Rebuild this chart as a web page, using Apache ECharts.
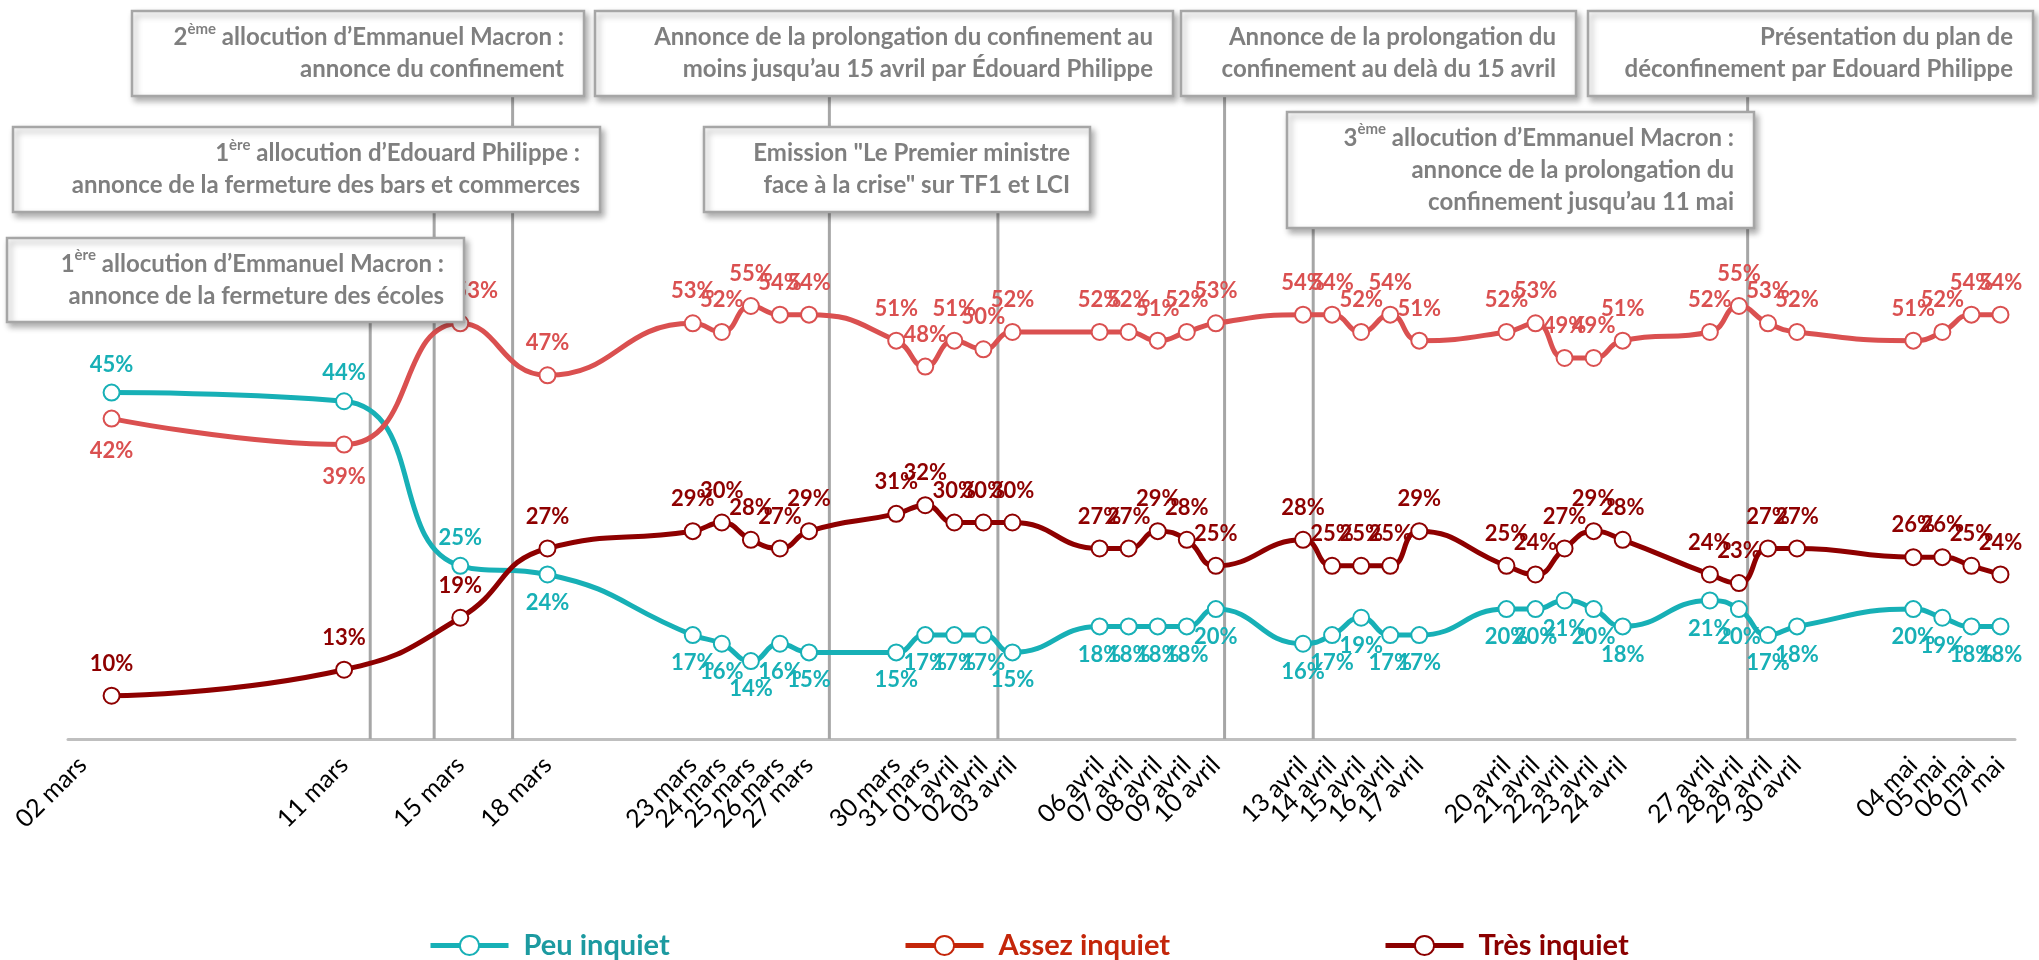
<!DOCTYPE html>
<html>
<head>
<meta charset="utf-8">
<title>Inquiétude face au coronavirus</title>
<script src="https://cdn.jsdelivr.net/npm/echarts@6/dist/echarts.min.js"></script>
<style>
  html, body { margin: 0; padding: 0; background: #fff; }
  #chart { width: 2039px; height: 960px; }
</style>
</head>
<body>
<div id="chart"></div>
<script>
// day numbers are counted from 1 March (avril d = 31 + d, mai d = 61 + d)
var tickLabels = ['02 mars', '11 mars', '15 mars', '18 mars', '23 mars', '24 mars', '25 mars', '26 mars', '27 mars',
  '30 mars', '31 mars', '01 avril', '02 avril', '03 avril', '06 avril', '07 avril', '08 avril', '09 avril', '10 avril',
  '13 avril', '14 avril', '15 avril', '16 avril', '17 avril', '20 avril', '21 avril', '22 avril', '23 avril', '24 avril',
  '27 avril', '28 avril', '29 avril', '30 avril', '04 mai', '05 mai', '06 mai', '07 mai'];
var tickDays = [2, 11, 15, 18, 23, 24, 25, 26, 27, 30, 31, 32, 33, 34, 37, 38, 39, 40, 41,
  44, 45, 46, 47, 48, 51, 52, 53, 54, 55, 58, 59, 60, 61, 65, 66, 67, 68];
// in the original the first point sits one day right of its label
var pointDays = [3, 11, 15, 18, 23, 24, 25, 26, 27, 30, 31, 32, 33, 34, 37, 38, 39, 40, 41,
  44, 45, 46, 47, 48, 51, 52, 53, 54, 55, 58, 59, 60, 61, 65, 66, 67, 68];

var peuInquiet = [45, 44, 25, 24, 17, 16, 14, 16, 15, 15, 17, 17, 17, 15, 18, 18, 18, 18, 20,
  16, 17, 19, 17, 17, 20, 20, 21, 20, 18, 21, 20, 17, 18, 20, 19, 18, 18];
var assezInquiet = [42, 39, 53, 47, 53, 52, 55, 54, 54, 51, 48, 51, 50, 52, 52, 52, 51, 52, 53,
  54, 54, 52, 54, 51, 52, 53, 49, 49, 51, 52, 55, 53, 52, 51, 52, 54, 54];
var tresInquiet = [10, 13, 19, 27, 29, 30, 28, 27, 29, 31, 32, 30, 30, 30, 27, 27, 29, 28, 25,
  28, 25, 25, 25, 29, 25, 24, 27, 29, 28, 24, 23, 27, 27, 26, 26, 25, 24];

// events (vertical lines) and their captions
var eventDays = [11.9, 14.1, 16.8, 27.7, 33.5, 41.3, 44.35, 59.3];
var eventTexts = [
  ['1{sup|ère} allocution d’Emmanuel Macron :', 'annonce de la fermeture des écoles'],
  ['1{sup|ère} allocution d’Edouard Philippe :', 'annonce de la fermeture des bars et commerces'],
  ['2{sup|ème} allocution d’Emmanuel Macron :', 'annonce du confinement'],
  ['Annonce de la prolongation du confinement au', 'moins jusqu’au 15 avril par Édouard Philippe'],
  ['Emission "Le Premier ministre', 'face à la crise" sur TF1 et LCI'],
  ['Annonce de la prolongation du', 'confinement au delà du 15 avril'],
  ['3{sup|ème} allocution d’Emmanuel Macron :', 'annonce de la prolongation du', 'confinement jusqu’au 11 mai'],
  ['Présentation du plan de', 'déconfinement par Edouard Philippe']
];
// caption boxes [x, y, w, h] in pixels
var boxes = [
  [7, 238, 457, 84],
  [13, 127, 587, 85],
  [132, 11, 452, 85],
  [595, 11, 578, 85],
  [704, 127, 386, 85],
  [1181, 11, 395, 85],
  [1287, 112, 467, 116],
  [1588, 11, 445, 85]
];

var FONT = 'Lato, "Open Sans", sans-serif';
var C_PEU = '#17B0B6', C_ASSEZ = '#DA5050', C_TRES = '#8E0000';

var chart = echarts.init(document.getElementById('chart'));

function makeSeries(name, values, color, pos, flip, shifts) {
  return {
    name: name,
    type: 'line',
    smooth: 0.5,
    symbol: 'emptyCircle',
    symbolSize: 16,
    lineStyle: { width: 5, color: color },
    itemStyle: { color: color, borderWidth: 3 },
    data: values.map(function (v, i) {
      var item = { value: [pointDays[i], v] };
      var lab = {};
      if (flip.indexOf(i) >= 0) lab.position = pos === 'top' ? 'bottom' : 'top';
      if (shifts[i]) lab.offset = shifts[i];
      if (lab.position || lab.offset) item.label = lab;
      return item;
    }),
    label: {
      show: true,
      position: pos,
      distance: pos === 'top' ? 12 : 8,
      color: color,
      fontFamily: FONT,
      fontWeight: 'bold',
      fontSize: 22,
      formatter: function (p) { return p.value[1] + '%'; }
    },
    z: 3
  };
}

function legendOf(name, left, color, textColor) {
  return {
    left: left,
    top: 926,
    itemWidth: 78,
    itemHeight: 24,
    data: [{
      name: name,
      itemStyle: { color: color, borderWidth: 4 },
      lineStyle: { color: color, width: 5 },
      textStyle: { color: textColor }
    }],
    textStyle: { fontFamily: FONT, fontWeight: 'bold', fontSize: 29, padding: [0, 0, 0, 10] }
  };
}

chart.setOption({
  backgroundColor: '#fff',
  animation: false,
  grid: { left: 68, right: 24, top: 262.7, bottom: 221, outerBoundsMode: 'none' },
  xAxis: {
    type: 'value',
    min: 1.5,
    max: 68.5,
    splitLine: { show: false },
    axisLine: { lineStyle: { color: '#BFBFBF', width: 3 } },
    axisTick: { show: false },
    axisLabel: {
      // an empty trailing label keeps the min/max overlap check from dropping the last date
      customValues: tickDays.concat([68.4]),
      formatter: function (v) {
        var i = tickDays.indexOf(v);
        return i >= 0 ? tickLabels[i] : '';
      },
      showMinLabel: true,
      hideOverlap: false,
      rotate: 45,
      margin: 22,
      fontSize: 25,
      fontFamily: FONT,
      color: '#000'
    }
  },
  yAxis: { type: 'value', min: 5, max: 60, show: false },
  legend: [
    legendOf('Peu inquiet', 423, C_PEU, '#1C9AA0'),
    legendOf('Assez inquiet', 898, '#C4260A', '#C4260A'),
    legendOf('Très inquiet', 1378, '#8B0000', '#8B0000')
  ],
  series: [
    makeSeries('Peu inquiet', peuInquiet, C_PEU, 'bottom', [0, 1, 2], {}),
    makeSeries('Assez inquiet', assezInquiet, C_ASSEZ, 'top', [0, 1], { 2: [16, 0] }),
    makeSeries('Très inquiet', tresInquiet, C_TRES, 'top', [], {})
  ]
});

// event lines and caption boxes
var baseY = chart.convertToPixel({ yAxisIndex: 0 }, 5);
var elements = [];
eventDays.forEach(function (d, i) {
  var x = chart.convertToPixel({ xAxisIndex: 0 }, d);
  var b = boxes[i];
  elements.push({
    type: 'line', z: 1, silent: true,
    shape: { x1: x, y1: baseY, x2: x, y2: b[1] + b[3] },
    style: { stroke: '#A6A6A6', lineWidth: 3 }
  });
});
eventDays.forEach(function (d, i) {
  var b = boxes[i];
  elements.push({
    type: 'rect', z: 10, silent: true,
    shape: { x: b[0], y: b[1], width: b[2], height: b[3] },
    style: {
      fill: '#fff', stroke: '#A6A6A6', lineWidth: 2.5,
      shadowBlur: 6, shadowOffsetX: 3, shadowOffsetY: 4, shadowColor: 'rgba(0,0,0,0.3)'
    }
  });
  elements.push({
    type: 'text', z: 11, silent: true,
    x: b[0] + b[2] - 20, y: b[1] + b[3] / 2,
    style: {
      text: eventTexts[i].join('\n'),
      fill: '#7F7F7F',
      font: 'bold 24px ' + FONT,
      lineHeight: 32,
      align: 'right',
      verticalAlign: 'middle',
      rich: {
        sup: { fontSize: 15, fontWeight: 'bold', fontFamily: FONT, fill: '#7F7F7F', verticalAlign: 'top', lineHeight: 32 }
      }
    }
  });
});
chart.setOption({ graphic: elements });
</script>
</body>
</html>
